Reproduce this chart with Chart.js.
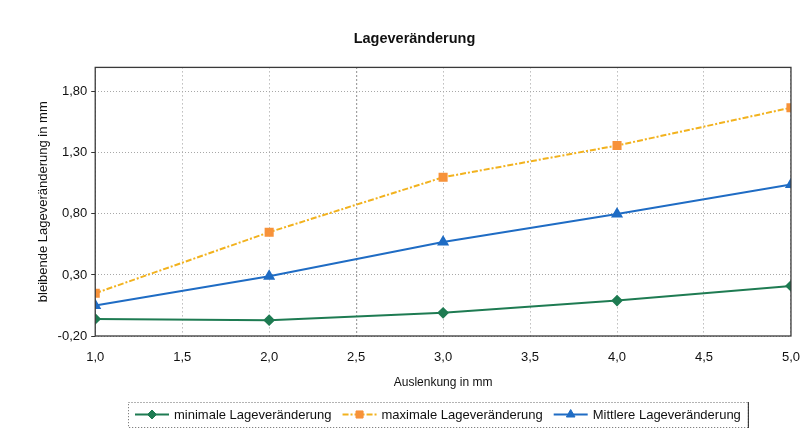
<!DOCTYPE html>
<html>
<head>
<meta charset="utf-8">
<script src="https://cdn.jsdelivr.net/npm/chart.js@4/dist/chart.umd.min.js"></script>
<style>
  html, body { margin: 0; padding: 0; background: #fff; }
  #wrap { width: 810px; height: 441px; }
</style>
</head>
<body>
<div id="wrap"><canvas id="c" width="810" height="441"></canvas></div>
<script>
// Auslenkung (mm) and the measured permanent position change (mm)
const auslenkung = [1.0, 2.0, 3.0, 4.0, 5.0];
const minimal    = [-0.06, -0.07, -0.01, 0.09, 0.21];
const maximal    = [0.15, 0.65, 1.10, 1.36, 1.67];
const mittlere   = [0.05, 0.29, 0.57, 0.80, 1.04];
const yTicks     = [-0.20, 0.30, 0.80, 1.30, 1.80];
const xTicks     = [1.0, 1.5, 2.0, 2.5, 3.0, 3.5, 4.0, 4.5, 5.0];

const seriesNames = ['minimale Lageveränderung', 'maximale Lageveränderung', 'Mittlere Lageveränderung'];

const FONT = 'Liberation Sans, Arial, sans-serif';
const de = (v, d) => v.toFixed(d).replace('.', ',');
const pts = arr => auslenkung.map((x, i) => ({ x, y: arr[i] }));

// Plot frame in the style of a spreadsheet chart
const framePlugin = {
  id: 'frame',
  afterDatasetsDraw(chart) {
    const { ctx, chartArea: a } = chart;
    ctx.save();
    ctx.strokeStyle = '#3a3a3a';
    ctx.lineWidth = 1.3;
    ctx.strokeRect(a.left, a.top, a.right - a.left, a.bottom - a.top);
    ctx.restore();
  }
};

// Legend with line + marker samples inside a box under the axis title
const boxLegend = {
  id: 'boxLegend',
  afterDraw(chart) {
    const { ctx } = chart;
    const ds = chart.data.datasets;
    ctx.save();
    ctx.font = '13px ' + FONT;
    ctx.textBaseline = 'middle';
    const sample = 34, gap = 5, sep = 11;
    let total = 0;
    const widths = ds.map(d => ctx.measureText(d.label).width);
    widths.forEach(w => total += sample + gap + w);
    total += sep * (ds.length - 1);
    const boxW = total + 14, boxH = 25;
    const bx = 128, by = 402;
    ctx.strokeStyle = '#666';
    ctx.lineWidth = 1;
    ctx.setLineDash([1, 2]);
    ctx.strokeRect(bx + 0.5, by + 0.5, boxW, boxH);
    ctx.setLineDash([]);
    ctx.strokeStyle = '#222';
    ctx.beginPath();
    ctx.moveTo(bx + boxW + 0.5, by); ctx.lineTo(bx + boxW + 0.5, by + boxH + 1);
    ctx.stroke();
    let x = bx + 7;
    const cy = by + boxH / 2;
    ds.forEach((d, i) => {
      ctx.strokeStyle = d.borderColor;
      ctx.lineWidth = d.borderWidth;
      ctx.setLineDash(d.borderDash || []);
      ctx.beginPath();
      ctx.moveTo(x, cy); ctx.lineTo(x + sample, cy);
      ctx.stroke();
      ctx.setLineDash([]);
      ctx.fillStyle = d.pointBackgroundColor;
      ctx.strokeStyle = d.pointBorderColor;
      ctx.lineWidth = 1;
      Chart.helpers.drawPoint(ctx, {
        pointStyle: d.pointStyle, radius: d.pointRadius, rotation: d.pointRotation || 0, borderWidth: 1
      }, x + sample / 2, cy);
      ctx.fillStyle = '#111';
      ctx.fillText(d.label, x + sample + gap, cy + 1);
      x += sample + gap + widths[i] + sep;
    });
    ctx.restore();
  }
};

const chart = new Chart(document.getElementById('c'), {
  type: 'line',
  data: {
    datasets: [
      {
        label: seriesNames[0], data: pts(minimal),
        borderColor: '#1e7b52', backgroundColor: '#1e7b52', borderWidth: 2,
        pointStyle: 'rectRot', pointRadius: 4.5, pointBackgroundColor: '#1e7b52', pointBorderColor: '#1e7b52'
      },
      {
        label: seriesNames[1], data: pts(maximal),
        borderColor: '#f2b21e', backgroundColor: '#f7923a', borderWidth: 2, borderDash: [6, 2, 2, 2],
        pointStyle: 'rect', pointRadius: 5, pointBackgroundColor: '#f7923a', pointBorderColor: '#f7923a'
      },
      {
        label: seriesNames[2], data: pts(mittlere),
        borderColor: '#1f6cc4', backgroundColor: '#1f6cc4', borderWidth: 2,
        pointStyle: 'triangle', pointRadius: 5, pointBackgroundColor: '#1f6cc4', pointBorderColor: '#1f6cc4'
      }
    ]
  },
  options: {
    responsive: false,
    animation: false,
    layout: { padding: { left: 32, right: 13, top: 5, bottom: 47 } },
    plugins: {
      legend: { display: false },
      tooltip: { enabled: false },
      title: {
        display: true, text: 'Lageveränderung', color: '#111',
        font: { family: FONT, size: 14.5, weight: 'bold' },
        padding: { top: 25, bottom: 20 }
      }
    },
    scales: {
      x: {
        type: 'linear', min: 1, max: 5,
        afterBuildTicks: s => { s.ticks = xTicks.map(v => ({ value: v })); },
        ticks: { color: '#111', font: { family: FONT, size: 13 }, padding: 10, callback: v => de(v, 1) },
        grid: {
          color: ctx => (ctx.tick && ctx.tick.value === 2.5) ? '#444' : '#9a9a9a',
          lineWidth: ctx => (ctx.tick && ctx.tick.value === 2.5) ? 1.2 : 1,
          drawTicks: true, tickColor: 'rgba(0,0,0,0)', tickLength: 4
        },
        border: { display: false, dash: [1, 3] },
        title: { display: true, text: 'Auslenkung in mm', color: '#111', font: { family: FONT, size: 12 }, padding: { top: 0 } }
      },
      y: {
        type: 'linear', min: -0.2, max: 2.0,
        afterBuildTicks: s => { s.ticks = yTicks.map(v => ({ value: v })); },
        ticks: { color: '#111', font: { family: FONT, size: 13 }, padding: 4, callback: v => de(v, 2) },
        grid: { color: '#a8a8a8', tickColor: '#333', tickLength: 4 },
        border: { display: false, dash: [1, 2] },
        title: { display: true, text: 'bleibende Lageveränderung in mm', color: '#111', font: { family: FONT, size: 13 }, padding: { top: 4, bottom: 2 } }
      }
    }
  },
  plugins: [framePlugin, boxLegend]
});
</script>
</body>
</html>
